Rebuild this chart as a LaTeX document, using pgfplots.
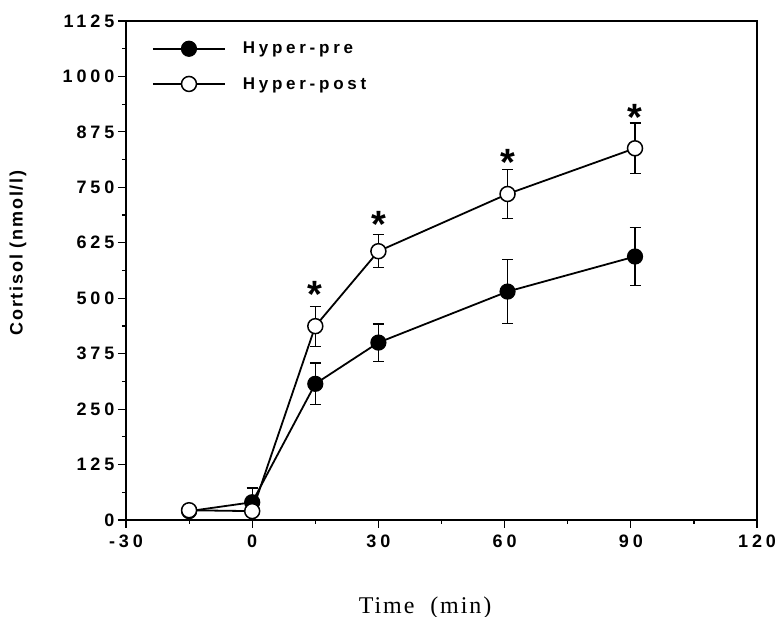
\documentclass[border=0pt]{standalone}
\usepackage{pgfplots}
\pgfplotsset{compat=1.18}
\usepackage{fontspec}
\setmainfont{Liberation Serif}
\newfontfamily\ticksf[LetterSpace=22]{Liberation Sans}
\newfontfamily\labsf[LetterSpace=10]{Liberation Sans}
\newfontfamily\timesf[LetterSpace=8]{Liberation Serif}

\begin{document}
\begin{tikzpicture}
\begin{axis}[name=ax, scale only axis, width=631pt, height=499pt,
    xmin=-30, xmax=120, ymin=0, ymax=1125,
    xtick={-30,0,30,60,90,120}, xticklabels={-30,0,30,60,90,120},
    ytick={0,125,...,1125},
    yticklabels={0,125,250,375,500,625,750,875,1000,1125},
    minor x tick num=1, minor y tick num=1,
    tick align=outside, xtick pos=bottom, ytick pos=left,
    major tick length=8pt, minor tick length=4pt,
    axis line style={line width=1.4pt},
    every tick/.style={line width=1.2pt, black},
    tick label style={font=\fontsize{18}{20}\ticksf\bfseries},
    xticklabel style={yshift=-3pt},
    ylabel={Cortisol (nmol/l)},
    ylabel style={font=\fontsize{18}{20}\labsf\bfseries,
        at={([xshift=-108pt]rel axis cs:0,0.535)}, anchor=center, rotate=0},
    xlabel={Time\ \ (min)},
    xlabel style={font=\fontsize{24}{26}\timesf,
        at={([yshift=-93pt]rel axis cs:0.474,0)}, anchor=base},
    legend style={at={(rel axis cs:0.041,0.962)}, anchor=north west,
        draw=none, fill=none, font=\fontsize{17}{19}\ticksf\bfseries,
        row sep=18pt, column sep=15pt, inner sep=0pt, cells={anchor=west}},
    legend image code/.code={\draw[mark repeat=2, mark phase=2, #1]
        plot coordinates {(0pt,0pt)(36pt,0pt)(72pt,0pt)};},
    error bars/error bar style={line width=1.2pt, black},
    error bars/error mark options={rotate=90, mark size=5.5pt, line width=1.2pt, black},
]
% Hyper-pre
\addplot[black, line width=1.8pt, mark=*, mark size=7.5pt,
    mark options={fill=black, draw=black, line width=1.2pt},
    error bars/.cd, y dir=both, y explicit]
    coordinates {(-15,20) +- (0,8) (0,40) +- (0,32) (15,307) +- (0,47)
                 (30,400) +- (0,42) (60.7,515) +- (0,72) (91,594) +- (0,66)};
% Hyper-post
\addplot[black, line width=1.8pt, mark=*, mark size=7.5pt,
    mark options={fill=white, draw=black, line width=1.5pt},
    error bars/.cd, y dir=both, y explicit]
    coordinates {(-15,22) +- (0,4) (0,20) +- (0,6) (15,437) +- (0,45)
                 (30,606) +- (0,37) (60.7,735) +- (0,56) (91,838) +- (0,57)};
% significance markers
\addplot[forget plot, draw=none, mark=none,
    nodes near coords={\fontsize{38}{38}\labsf\bfseries *},
    every node near coord/.style={anchor=center, inner sep=0pt}]
    coordinates {(15,508) (30,666) (60.7,806) (91,907)};
\legend{Hyper-pre, Hyper-post}
\end{axis}
\pgfresetboundingbox
\path ([xshift=-126pt,yshift=-97pt]ax.south west) rectangle ([xshift=21pt,yshift=21pt]ax.north east);
\end{tikzpicture}
\end{document}
